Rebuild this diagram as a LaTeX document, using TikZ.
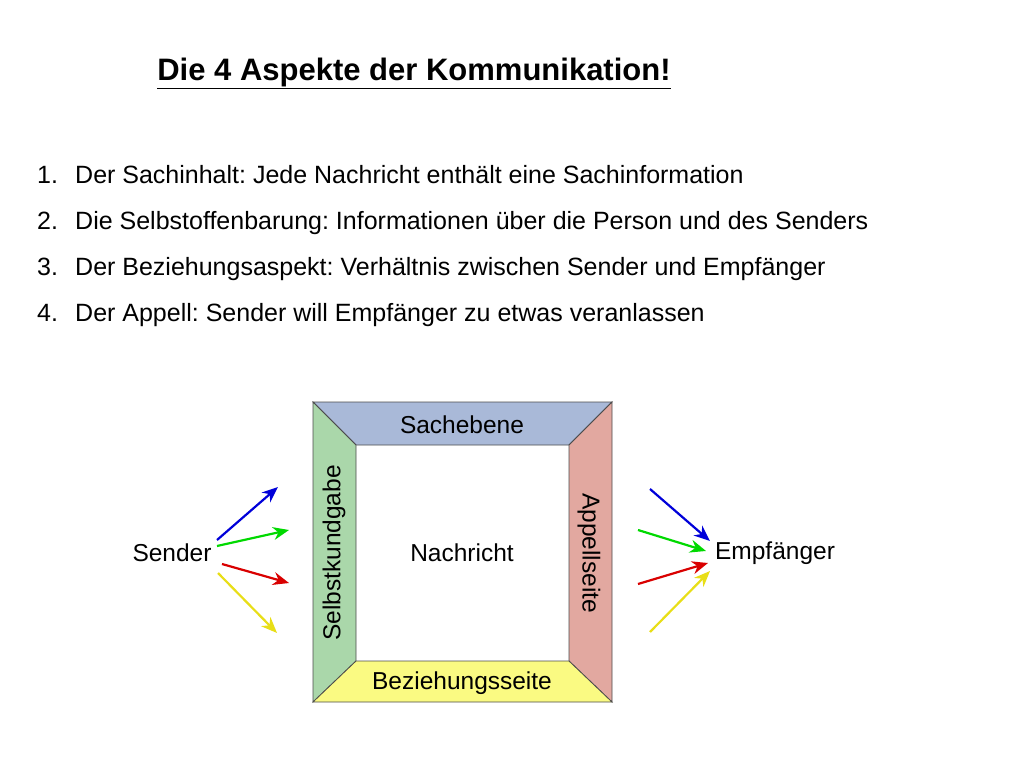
\documentclass[tikz,border=0pt]{standalone}
\usepackage{fontspec}
\setmainfont{Liberation Sans}
\usetikzlibrary{arrows.meta}
\definecolor{cblue}{RGB}{169,185,216}
\definecolor{cgreen}{RGB}{170,215,170}
\definecolor{cred}{RGB}{226,168,160}
\definecolor{cyel}{RGB}{250,250,130}
\frenchspacing
\tikzset{
  side/.style={draw=black!70, line width=0.8pt},
  lbl/.style={font=\fontsize{24.5}{28}\selectfont, inner sep=0pt},
  item/.style={font=\fontsize{25}{30}\selectfont, anchor=base west, inner sep=0pt},
  arr/.style={line width=2.2pt, -{Stealth[length=16pt,width=13pt]}}
}
\begin{document}
\begin{tikzpicture}[x=1pt,y=-1pt]
\useasboundingbox (0,0) rectangle (1024,768);
\node[font=\bfseries\fontsize{31}{36}\selectfont, inner sep=0pt] (title) at (414,73) {\underline{Die 4 Aspekte der Kommunikation!}};
\foreach \n/\y/\t in {1/183/{Der Sachinhalt: Jede Nachricht enthält eine Sachinformation},
  2/229/{Die Selbstoffenbarung: Informationen über die Person und des Senders},
  3/275/{Der Beziehungsaspekt: Verhältnis zwischen Sender und Empfänger},
  4/321/{Der Appell: Sender will Empfänger zu etwas veranlassen}}{
  \node[item] (n\n) at (37,\y) {\n.};
  \node[item] (t\n) at (75,\y) {\t};
}
% frame
\fill[cblue,side] (313,402) -- (612,402) -- (569,445) -- (356,445) -- cycle;
\fill[cgreen,side] (313,402) -- (356,445) -- (356,661) -- (313,702) -- cycle;
\fill[cred,side] (612,402) -- (612,702) -- (569,661) -- (569,445) -- cycle;
\fill[cyel,side] (313,702) -- (356,661) -- (569,661) -- (612,702) -- cycle;
\node[lbl] (sach) at (462,425) {Sachebene};
\node[lbl] (bez) at (462,683) {Beziehungsseite};
\node[lbl, rotate=90] (selbst) at (334,553) {Selbstkundgabe};
\node[lbl, rotate=-90] (app) at (589,553) {Appellseite};
\node[lbl] (nach) at (462,553) {Nachricht};
\node[lbl] (send) at (172,553) {Sender};
\node[lbl] (emp) at (775,553) {Empfänger};
\coordinate (a1) at (278,487); \coordinate (a2) at (289,530);
\coordinate (a3) at (289,583); \coordinate (a4) at (277,633);
\coordinate (b1) at (650,489); \coordinate (b2) at (638,530);
\coordinate (b3) at (638,584); \coordinate (b4) at (650,632);
\draw[arr, blue!85!black] (217,540) -- (a1);
\draw[arr, green!85!black] (217,546) -- (a2);
\draw[arr, red!85!black] (222,564) -- (a3);
\draw[arr, yellow!90!black] (218,573) -- (a4);
\draw[arr, blue!85!black] (b1) -- (710,541);
\draw[arr, green!85!black] (b2) -- (706,551);
\draw[arr, red!85!black] (b3) -- (708,563);
\draw[arr, yellow!90!black] (b4) -- (710,571);
\end{tikzpicture}
\end{document}
